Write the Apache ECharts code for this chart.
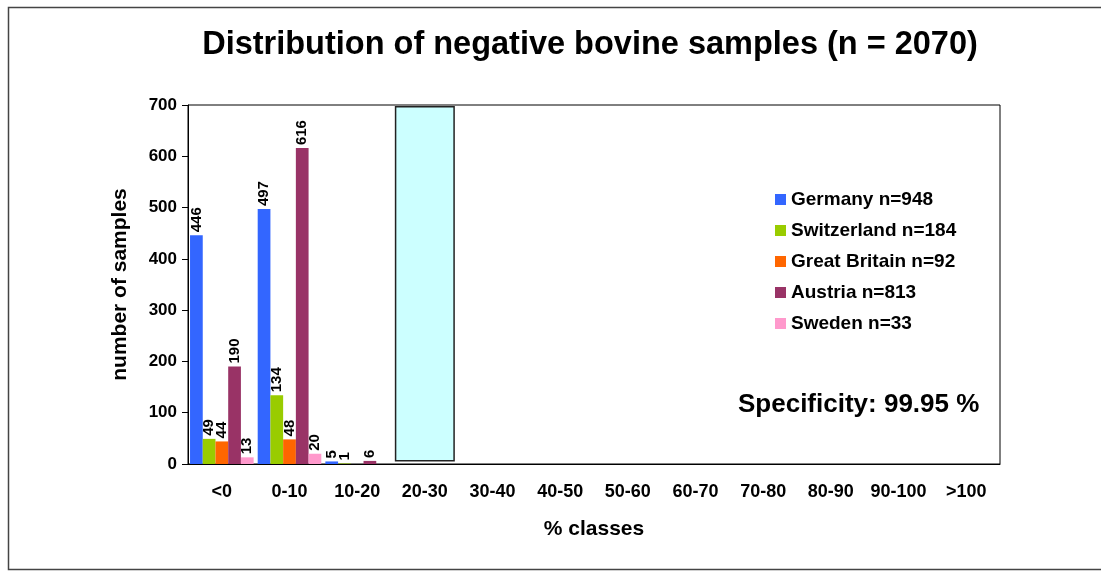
<!DOCTYPE html>
<html>
<head>
<meta charset="utf-8">
<script src="https://cdn.jsdelivr.net/npm/echarts@6/dist/echarts.min.js"></script>
<style>
  html, body { margin: 0; padding: 0; background: #fff; }
  #chart { width: 1101px; height: 572px; }
</style>
</head>
<body>
<div id="chart"></div>
<script>
  // categories and values
  const classes = ['<0', '0-10', '10-20', '20-30', '30-40', '40-50', '50-60', '60-70', '70-80', '80-90', '90-100', '>100']
  const germany = [446, 497, 5, null, null, null, null, null, null, null, null, null]
  const switzerland = [49, 134, 1, null, null, null, null, null, null, null, null, null]
  const greatBritain = [44, 48, null, null, null, null, null, null, null, null, null, null]
  const austria = [190, 616, 6, null, null, null, null, null, null, null, null, null]
  const sweden = [13, 20, null, null, null, null, null, null, null, null, null, null]
  const countryNames = ['Germany n=948', 'Switzerland n=184', 'Great Britain n=92', 'Austria n=813', 'Sweden n=33']
  const countryColors = ['#3366FF', '#99CC00', '#FF6600', '#993366', '#FF99CC']
  // highlighted box over the 20-30 class (bottom and top on the y scale)
  const boxClass = '20-30'
  const boxBottom = 5
  const boxTop = 698

  let el = document.getElementById('chart')
  let myChart = echarts.init(el)

  const font = 'Liberation Sans, Arial, sans-serif'
  const seriesData = [germany, switzerland, greatBritain, austria, sweden]

  let series = seriesData.map((d, i) => {
    return {
      name: countryNames[i],
      type: 'bar',
      data: d,
      barGap: '0%',
      barCategoryGap: '6%',
      itemStyle: { color: countryColors[i] },
      label: {
        show: true,
        position: 'top',
        rotate: 90,
        align: 'left',
        verticalAlign: 'middle',
        distance: 3,
        color: '#000',
        fontWeight: 'bold',
        fontSize: 15,
        fontFamily: font
      }
    }
  })

  let boxBase = classes.map(c => c === boxClass ? boxBottom : null)
  let boxBody = classes.map(c => c === boxClass ? boxTop - boxBottom : null)
  series.push({
    name: 'boxBase',
    type: 'bar',
    xAxisIndex: 1,
    stack: 'box',
    barWidth: 60,
    data: boxBase,
    itemStyle: { color: 'transparent' },
    silent: true
  })
  series.push({
    name: 'box',
    type: 'bar',
    xAxisIndex: 1,
    stack: 'box',
    barWidth: 60,
    data: boxBody,
    itemStyle: { color: '#CCFFFF', borderColor: '#222', borderWidth: 1.5 },
    silent: true
  })

  let option = {
    animation: false,
    textStyle: { fontFamily: font },
    graphic: [
      {
        type: 'rect',
        shape: { x: 8.5, y: 7.5, width: 1200, height: 562 },
        style: { fill: 'none', stroke: '#444', lineWidth: 1.5 },
        silent: true
      },
      {
        type: 'text',
        x: 590,
        y: 45,
        style: {
          text: 'Distribution of negative bovine samples (n = 2070)',
          fontSize: 32.5,
          fontWeight: 'bold',
          fontFamily: font,
          fill: '#000',
          align: 'center',
          verticalAlign: 'middle'
        }
      },
      {
        type: 'text',
        x: 738,
        y: 405,
        style: {
          text: 'Specificity: 99.95 %',
          fontSize: 26,
          fontWeight: 'bold',
          fontFamily: font,
          fill: '#000',
          align: 'left',
          verticalAlign: 'middle'
        }
      }
    ],
    legend: {
      data: countryNames,
      orient: 'vertical',
      left: 770,
      top: 185,
      itemWidth: 11,
      itemHeight: 11,
      itemGap: 12,
      icon: 'rect',
      textStyle: { fontSize: 19, fontWeight: 'bold', color: '#000', fontFamily: font }
    },
    grid: {
      left: 188,
      right: 101,
      top: 105,
      bottom: 108,
      show: true,
      borderColor: '#000',
      borderWidth: 1,
      backgroundColor: '#fff'
    },
    xAxis: [
      {
        type: 'category',
        data: classes,
        name: '% classes',
        nameLocation: 'middle',
        nameGap: 55,
        nameTextStyle: { fontSize: 21, fontWeight: 'bold', color: '#000' },
        axisLine: { lineStyle: { color: '#000' } },
        axisTick: { length: 6, lineStyle: { color: '#000' } },
        axisLabel: { fontSize: 18, fontWeight: 'bold', color: '#000', margin: 19, interval: 0 }
      },
      {
        type: 'category',
        data: classes,
        show: false
      }
    ],
    yAxis: {
      type: 'value',
      min: 0,
      max: 700,
      interval: 100,
      name: 'number of samples',
      nameLocation: 'middle',
      nameGap: 57,
      nameTextStyle: { fontSize: 21, fontWeight: 'bold', color: '#000' },
      axisLine: { show: true, lineStyle: { color: '#000' } },
      axisTick: { show: true, length: 6, lineStyle: { color: '#000' } },
      axisLabel: { fontSize: 17, fontWeight: 'bold', color: '#000', margin: 11 },
      splitLine: { show: false }
    },
    series: series
  }

  myChart.setOption(option)
</script>
</body>
</html>
